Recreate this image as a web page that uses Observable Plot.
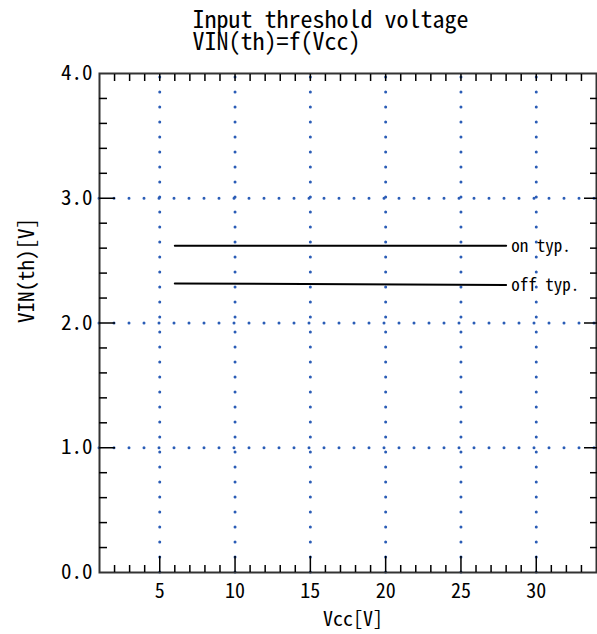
<!DOCTYPE html>
<html><head><meta charset="utf-8">
<script src="https://cdn.jsdelivr.net/npm/d3@7"></script>
<script src="https://cdn.jsdelivr.net/npm/@observablehq/plot@0.6"></script>
<style>body{margin:0;background:#fff}</style>
</head><body><div id="chart"></div>
<script>
const titleLines = ["Input threshold voltage", "VIN(th)=f(Vcc)"];
const xLabel = "Vcc[V]";
const yLabel = "VIN(th)[V]";
const xTickValues = [5, 10, 15, 20, 25, 30];
const xTickLabels = ["5", "10", "15", "20", "25", "30"];
const yTickValues = [0, 1, 2, 3, 4];
const yTickLabels = ["0.0", "1.0", "2.0", "3.0", "4.0"];
const xDomain = [1, 34];
const yDomain = [0, 4];
const seriesNames = ["on typ.", "off typ."];
const vccPoints = [6, 28];
const onValues = [2.62, 2.62];
const offValues = [2.317, 2.305];

const FONT = '"Noto Sans Mono CJK JP", "DejaVu Sans Mono", monospace';
const GRID = "#2a5cb6";

const lines = [
  ...vccPoints.map((x, i) => ({series: seriesNames[0], vcc: x, v: onValues[i]})),
  ...vccPoints.map((x, i) => ({series: seriesNames[1], vcc: x, v: offValues[i]}))
];
const ends = seriesNames.map(s => lines.filter(d => d.series === s).at(-1));

const xAll = d3.range(xDomain[0] + 1, xDomain[1]);            // every 1 V
const xMinor = xAll.filter(v => !xTickValues.includes(v));
const yMinor = d3.range(1, 20).filter(i => i % 5).map(i => i / 5); // every 0.2 V
const yInner = yTickValues.filter(v => v > yDomain[0] && v < yDomain[1]);

const none = () => "";
const tk = {tickFormat: none, strokeWidth: 1.5, label: null};

const chart = Plot.plot({
  width: 597,
  height: 634,
  marginLeft: 99,
  marginRight: 1,
  marginTop: 73,
  marginBottom: 62,
  style: {fontFamily: FONT, color: "#000", background: "#fff"},
  x: {domain: xDomain, axis: null},
  y: {domain: yDomain, axis: null},
  marks: [
    // dotted grid
    Plot.ruleX(xTickValues, {y1: yDomain[0], y2: yDomain[1], stroke: GRID, strokeWidth: 3, strokeDasharray: "0 15", strokeLinecap: "round"}),
    Plot.ruleY(yInner, {x1: xDomain[0], x2: xDomain[1], stroke: GRID, strokeWidth: 3, strokeDasharray: "0 15", strokeLinecap: "round"}),
    // frame
    Plot.frame({stroke: "#333", strokeWidth: 2}),
    // inward ticks
    Plot.axisX(xMinor, {anchor: "bottom", tickSize: -7, ...tk}),
    Plot.axisX(xTickValues, {anchor: "bottom", tickSize: -16, ...tk}),
    Plot.axisX(xAll, {anchor: "top", tickSize: -7, ...tk}),
    Plot.axisY(yMinor, {anchor: "left", tickSize: -8, ...tk}),
    Plot.axisY(yInner, {anchor: "left", tickSize: -16, ...tk}),
    Plot.axisY(yMinor, {anchor: "right", tickSize: -7, ...tk}),
    Plot.axisY(yInner, {anchor: "right", tickSize: -13, ...tk}),
    // tick labels
    Plot.axisX(xTickValues, {anchor: "bottom", tickSize: 0, tickPadding: 11, fontSize: 20, label: null, tickFormat: d => xTickLabels[xTickValues.indexOf(d)]}),
    Plot.axisY(yTickValues, {anchor: "left", tickSize: 0, tickPadding: 7, fontSize: 21, label: null, tickFormat: d => yTickLabels[yTickValues.indexOf(d)]}),
    // axis labels
    Plot.text([xLabel], {frameAnchor: "bottom", dy: 47, dx: 5, fontSize: 20, lineAnchor: "middle"}),
    Plot.text([yLabel], {frameAnchor: "left", dx: -72, rotate: -90, fontSize: 21, lineAnchor: "middle"}),
    // title (two lines, one text)
    Plot.text([titleLines.join("\n")], {frameAnchor: "top-left", dx: 93, dy: -62, textAnchor: "start", lineAnchor: "top", lineHeight: 0.95, fontSize: 24}),
    // data
    Plot.line(lines, {x: "vcc", y: "v", z: "series", stroke: "#000", strokeWidth: 2}),
    Plot.text(ends, {x: "vcc", y: "v", text: "series", textAnchor: "start", dx: 5, dy: 1, fontSize: 17})
  ]
});
document.getElementById("chart").append(chart);
</script>
</body></html>
